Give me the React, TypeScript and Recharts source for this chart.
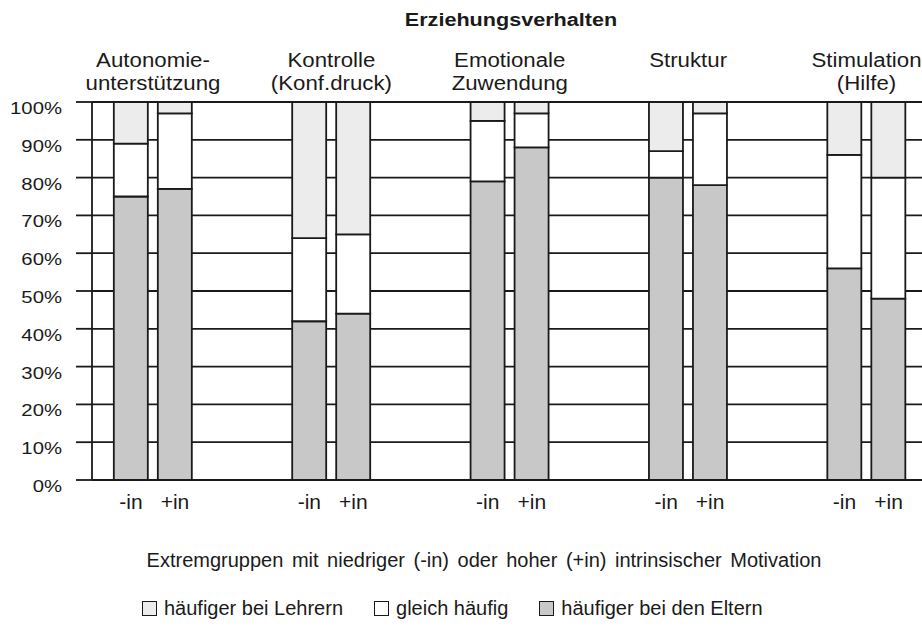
import { BarChart, Bar, XAxis, YAxis, CartesianGrid } from "recharts";

const groupLine1 = ["Autonomie-", "Kontrolle", "Emotionale", "Struktur", "Stimulation"];
const groupLine2 = ["unterstützung", "(Konf.druck)", "Zuwendung", "", "(Hilfe)"];
const barLabels = ["-in", "+in"];

// values in %
const elternMinus = [75, 42, 79, 80, 56];
const gleichMinus = [14, 22, 16, 7, 30];
const lehrerMinus = [11, 36, 5, 13, 14];
const elternPlus = [77, 44, 88, 78, 48];
const gleichPlus = [20, 21, 9, 19, 32];
const lehrerPlus = [3, 35, 3, 3, 20];

const yTicks = [0, 10, 20, 30, 40, 50, 60, 70, 80, 90, 100];
const legendNames = ["häufiger bei Lehrern", "gleich häufig", "häufiger bei den Eltern"];
const legendColors = ["#ececec", "#ffffff", "#c8c8c8"];

const title = "Erziehungsverhalten";
const caption = "Extremgruppen mit niedriger (-in) oder hoher (+in) intrinsischer Motivation";

const data = groupLine1.map((_, i) => ({
  pos: i,
  elternMinus: elternMinus[i],
  gleichMinus: gleichMinus[i],
  lehrerMinus: lehrerMinus[i],
  elternPlus: elternPlus[i],
  gleichPlus: gleichPlus[i],
  lehrerPlus: lehrerPlus[i],
}));

const groupTicks = data.map((d) => d.pos);
const xDomain = [-0.342, 4.311];
const ink = "#1a1a1a";
const font = "'Liberation Sans', Arial, sans-serif";

function YTick({ x, y, payload }: any) {
  return (
    <text
      transform={`translate(${x} ${y + 12}) scale(1.27 1)`}
      textAnchor="end"
      fontSize={16}
      fill={ink}
      fontFamily={font}
    >
      {payload.value}%
    </text>
  );
}

function TopTick({ x, y, payload }: any) {
  const i = payload.value;
  return (
    <g fontSize={21} fill={ink} fontFamily={font}>
      <text transform={`translate(${x} ${y - 35}) scale(1.06 1)`} textAnchor="middle">
        {groupLine1[i]}
      </text>
      <text transform={`translate(${x} ${y - 12}) scale(1.06 1)`} textAnchor="middle">
        {groupLine2[i]}
      </text>
    </g>
  );
}

function BottomTick({ x, y }: any) {
  return (
    <g fontSize={21} fill={ink} fontFamily={font}>
      <text x={x - 22} y={y + 29} textAnchor="middle">
        {barLabels[0]}
      </text>
      <text x={x + 22} y={y + 29} textAnchor="middle">
        {barLabels[1]}
      </text>
    </g>
  );
}

export default function App() {
  const barProps = { stroke: ink, strokeWidth: 1.8, isAnimationActive: false };
  return (
    <div
      style={{
        position: "absolute",
        left: 0,
        top: 0,
        width: 922,
        height: 631,
        background: "#fff",
        fontFamily: font,
        color: ink,
        overflow: "hidden",
      }}
    >
      <div
        style={{
          position: "absolute",
          left: 511,
          top: 11,
          fontSize: 18,
          lineHeight: "18px",
          fontWeight: 700,
          whiteSpace: "nowrap",
          transform: "translateX(-50%) scaleX(1.2)",
        }}
      >
        {title}
      </div>
      <BarChart
        width={922}
        height={631}
        data={data}
        margin={{ top: 40, right: 0, bottom: 0, left: 0 }}
        barSize={34}
        barGap={10}
      >
        <CartesianGrid vertical={false} stroke={ink} strokeWidth={1.8} />
        <XAxis
          dataKey="pos"
          type="number"
          domain={xDomain}
          ticks={groupTicks}
          allowDataOverflow
          height={151}
          tickSize={0}
          tickMargin={0}
          axisLine={false}
          tickLine={false}
          tick={<BottomTick />}
        />
        <XAxis
          xAxisId="top"
          dataKey="pos"
          type="number"
          orientation="top"
          domain={xDomain}
          ticks={groupTicks}
          allowDataOverflow
          height={62}
          tickSize={0}
          tickMargin={0}
          axisLine={false}
          tickLine={false}
          tick={<TopTick />}
        />
        <YAxis
          width={92}
          domain={[0, 100]}
          ticks={yTicks}
          tickSize={16}
          tickMargin={14}
          axisLine={{ stroke: ink, strokeWidth: 1.8 }}
          tickLine={{ stroke: ink, strokeWidth: 1.8 }}
          tick={<YTick />}
        />
        <Bar dataKey="elternMinus" stackId="minus" fill={legendColors[2]} {...barProps} />
        <Bar dataKey="gleichMinus" stackId="minus" fill={legendColors[1]} {...barProps} />
        <Bar dataKey="lehrerMinus" stackId="minus" fill={legendColors[0]} {...barProps} />
        <Bar dataKey="elternPlus" stackId="plus" fill={legendColors[2]} {...barProps} />
        <Bar dataKey="gleichPlus" stackId="plus" fill={legendColors[1]} {...barProps} />
        <Bar dataKey="lehrerPlus" stackId="plus" fill={legendColors[0]} {...barProps} />
      </BarChart>
      <div
        style={{
          position: "absolute",
          left: 484,
          top: 550,
          fontSize: 20,
          lineHeight: "20px",
          wordSpacing: 3,
          whiteSpace: "nowrap",
          transform: "translateX(-50%)",
        }}
      >
        {caption}
      </div>
      <div
        style={{
          position: "absolute",
          left: 142,
          top: 598,
          display: "flex",
          gap: 31,
          fontSize: 20,
          lineHeight: "20px",
          whiteSpace: "nowrap",
        }}
      >
        {legendNames.map((name, i) => (
          <div key={name} style={{ display: "flex", alignItems: "center", gap: 7 }}>
            <span
              style={{
                width: 13,
                height: 13,
                background: legendColors[i],
                border: `1.5px solid ${ink}`,
                display: "inline-block",
              }}
            />
            <span>{name}</span>
          </div>
        ))}
      </div>
    </div>
  );
}
